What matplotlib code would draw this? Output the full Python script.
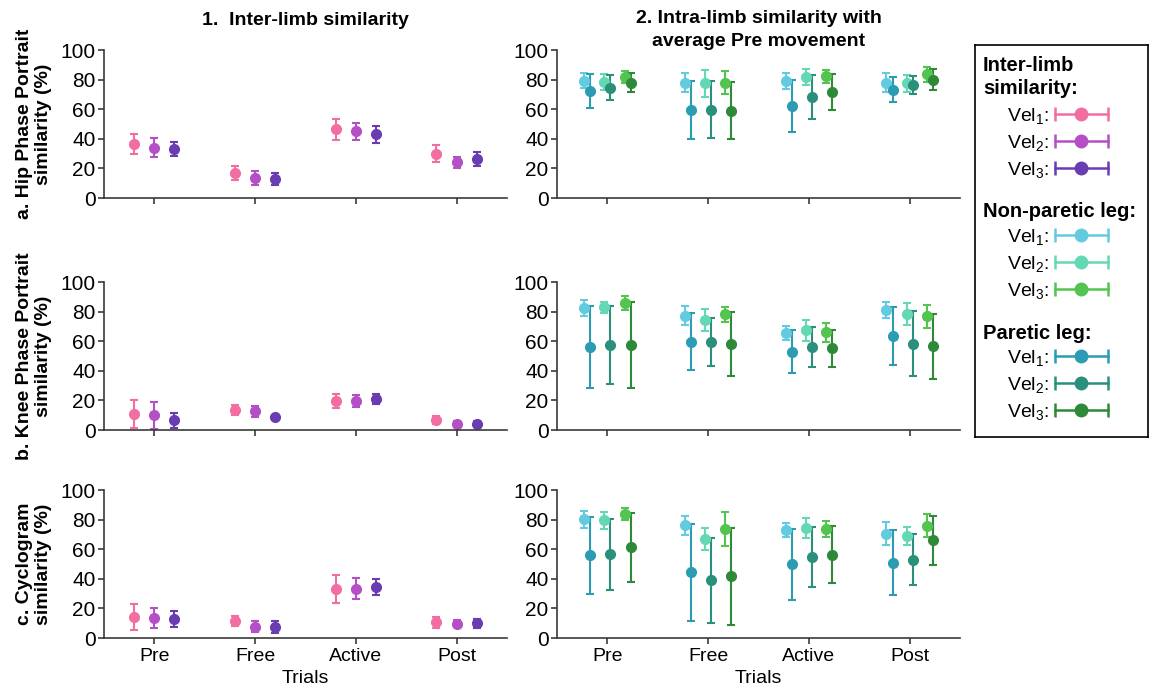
import numpy as np
import matplotlib.pyplot as plt
from matplotlib.lines import Line2D
from matplotlib.legend_handler import HandlerLine2D, HandlerTuple

plt.rcParams['font.family'] = ['Liberation Sans', 'DejaVu Sans']
plt.rcParams['mathtext.default'] = 'regular'

# ---- data (rows = Vel1, Vel2, Vel3; columns = trials) ----
trials = ["Pre", "Free", "Active", "Post"]
vel_labels = ["Vel$_1$:", "Vel$_2$:", "Vel$_3$:"]

hip_inter_mean = [[36.5, 17.0, 46.5, 30.0], [34.0, 13.3, 45.0, 24.0], [33.3, 12.8, 43.0, 26.5]]
hip_inter_err = [[7.0, 4.7, 7.0, 5.7], [6.5, 4.8, 6.0, 4.0], [4.8, 4.2, 5.5, 4.6]]
hip_np_mean = [[79.3, 78.0, 79.0, 78.0], [78.4, 77.5, 81.8, 77.5], [81.8, 78.0, 82.2, 83.6]]
hip_np_err = [[5.2, 6.4, 5.6, 6.5], [5.3, 9.2, 5.3, 5.8], [3.8, 7.7, 4.2, 4.9]]
hip_p_mean = [[72.4, 59.6, 62.0, 73.3], [74.6, 59.8, 68.1, 76.4], [78.0, 59.1, 71.5, 79.8]]
hip_p_err = [[11.5, 19.5, 17.5, 8.2], [8.3, 19.0, 14.9, 6.3], [6.7, 19.5, 12.0, 7.1]]

knee_inter_mean = [[10.8, 13.3, 19.4, 6.8], [9.9, 12.6, 19.6, 4.3], [6.5, 8.8, 21.0, 4.3]]
knee_inter_err = [[9.5, 3.4, 4.8, 2.5], [8.9, 3.5, 4.0, 1.5], [5.0, 1.5, 3.3, 1.5]]
knee_np_mean = [[82.2, 77.2, 65.5, 81.0], [82.8, 74.3, 67.3, 78.3], [85.8, 78.1, 66.1, 77.0]]
knee_np_err = [[5.5, 6.4, 5.0, 5.2], [4.0, 7.4, 7.2, 7.5], [4.7, 5.0, 6.5, 7.8]]
knee_p_mean = [[56.0, 59.8, 53.0, 63.4], [57.6, 59.4, 56.4, 58.2], [57.6, 58.0, 55.1, 56.7]]
knee_p_err = [[27.5, 19.2, 14.5, 19.8], [26.4, 16.4, 13.5, 22.0], [29.0, 21.5, 12.4, 22.0]]

cyc_inter_mean = [[14.2, 11.7, 33.3, 10.6], [13.5, 7.6, 33.3, 9.7], [13.0, 7.6, 34.2, 10.1]]
cyc_inter_err = [[9.0, 3.5, 9.5, 3.8], [6.9, 3.7, 7.0, 2.5], [5.3, 4.0, 5.4, 3.0]]
cyc_np_mean = [[80.2, 76.2, 73.0, 70.6], [79.6, 66.7, 74.2, 68.8], [83.6, 73.7, 73.9, 76.0]]
cyc_np_err = [[5.6, 6.3, 4.8, 7.6], [5.8, 7.4, 6.7, 6.0], [4.0, 11.2, 5.5, 8.0]]
cyc_p_mean = [[56.0, 44.3, 49.7, 50.8], [56.6, 38.9, 54.6, 52.8], [61.3, 41.6, 56.4, 66.1]]
cyc_p_err = [[26.0, 33.0, 24.0, 22.0], [24.0, 28.5, 20.3, 17.2], [23.3, 33.0, 19.2, 16.5]]

ylabels = ["a. Hip Phase Portrait\nsimilarity (%)",
           "b. Knee Phase Portrait\nsimilarity (%)",
           "c. Cyclogram\nsimilarity (%)"]

inter_colors = ['#F26DA2', '#B44FC6', '#6A3CB2']
np_colors = ['#62CBE0', '#64D8B5', '#52C44F']
p_colors = ['#2B9CB4', '#2A907C', '#2E8A38']

rows = [
    (hip_inter_mean, hip_inter_err, hip_np_mean, hip_np_err, hip_p_mean, hip_p_err),
    (knee_inter_mean, knee_inter_err, knee_np_mean, knee_np_err, knee_p_mean, knee_p_err),
    (cyc_inter_mean, cyc_inter_err, cyc_np_mean, cyc_np_err, cyc_p_mean, cyc_p_err),
]

fig = plt.figure(figsize=(11.54, 6.89), dpi=100)

x = np.arange(len(trials)) + 0.5
vel_off = [-0.2, 0.0, 0.2]
bottoms = [0.7126, 0.3759, 0.0740]
eb = dict(fmt='o', ms=7, elinewidth=1.5, capsize=2.7, capthick=1.5)


def style(ax, last):
    for s in ['top', 'right']:
        ax.spines[s].set_visible(False)
    for s in ['left', 'bottom']:
        ax.spines[s].set_color('#3a3a3a')
        ax.spines[s].set_linewidth(1.2)
    ax.set_xlim(0, 4)
    ax.set_ylim(0, 100)
    ax.set_yticks(range(0, 101, 20))
    ax.set_xticks(x)
    ax.tick_params(axis='both', length=4, width=1.2, color='#3a3a3a', pad=2)
    ax.tick_params(axis='y', labelsize=15)
    ax.tick_params(axis='x', labelsize=14, pad=3)
    if last:
        ax.set_xticklabels(trials)
        ax.set_xlabel("Trials", fontsize=14, labelpad=4)
    else:
        ax.set_xticklabels([])


for r, (im, ie, nm, ne, pm, pe) in enumerate(rows):
    axl = fig.add_axes([0.0901, bottoms[r], 0.3492, 0.2148])
    axr = fig.add_axes([0.4827, bottoms[r], 0.3492, 0.2148])
    for v in range(3):
        axl.errorbar(x + vel_off[v], im[v], yerr=ie[v], color=inter_colors[v], **eb)
    for v in range(3):
        axr.errorbar(x + vel_off[v] - 0.03, nm[v], yerr=ne[v], color=np_colors[v], **eb)
        axr.errorbar(x + vel_off[v] + 0.03, pm[v], yerr=pe[v], color=p_colors[v], **eb)
    style(axl, r == 2)
    style(axr, r == 2)
    axl.set_ylabel(ylabels[r], fontsize=14, fontweight='bold', linespacing=1.2)
    axl.yaxis.set_label_coords(-0.128, 0.5)
    if r == 0:
        axl.set_title("1.  Inter-limb similarity", fontsize=14, fontweight='bold', pad=18)
        axr.set_title("2. Intra-limb similarity with\naverage Pre movement",
                      fontsize=14, fontweight='bold', pad=-5, linespacing=1.45)

# ---- legend panel ----
lax = fig.add_axes([0.845, 0.3658, 0.150, 0.569])
lax.set_xticks([])
lax.set_yticks([])
for s in lax.spines.values():
    s.set_linewidth(1.2)
    s.set_color('black')

headers = ["Inter-limb\nsimilarity:", "Non-paretic leg:", "Paretic leg:"]
header_y = [0.972, 0.574, 0.265]
header_va = ['top', 'center', 'center']
entry_top = [0.844, 0.536, 0.227]
groups = [inter_colors, np_colors, p_colors]

legends = []
for g in range(3):
    lax.text(0.045, header_y[g], headers[g], transform=lax.transAxes, ha='left',
             va=header_va[g], fontsize=14.5, fontweight='bold', linespacing=1.3)
    handles = []
    hmap = {}
    for c in groups[g]:
        cap = Line2D([], [], color=c, lw=1.8, marker='|', ms=10, mew=1.8)
        dot = Line2D([], [], color=c, ls='none', marker='o', ms=9)
        hmap[cap] = HandlerLine2D(numpoints=2, marker_pad=0)
        hmap[dot] = HandlerLine2D(numpoints=1)
        handles.append((cap, dot))
    hmap[tuple] = HandlerTuple(ndivide=1)
    leg = lax.legend(handles, vel_labels, loc='upper right', bbox_to_anchor=(0.765, entry_top[g]),
                     bbox_transform=lax.transAxes, frameon=False, fontsize=14, markerfirst=False,
                     handlelength=2.7, handletextpad=0.3, borderpad=0, borderaxespad=0,
                     labelspacing=0.36, handler_map=hmap)
    legends.append(leg)
for leg in legends[:-1]:
    lax.add_artist(leg)

fig.savefig("out.png", dpi=100)
